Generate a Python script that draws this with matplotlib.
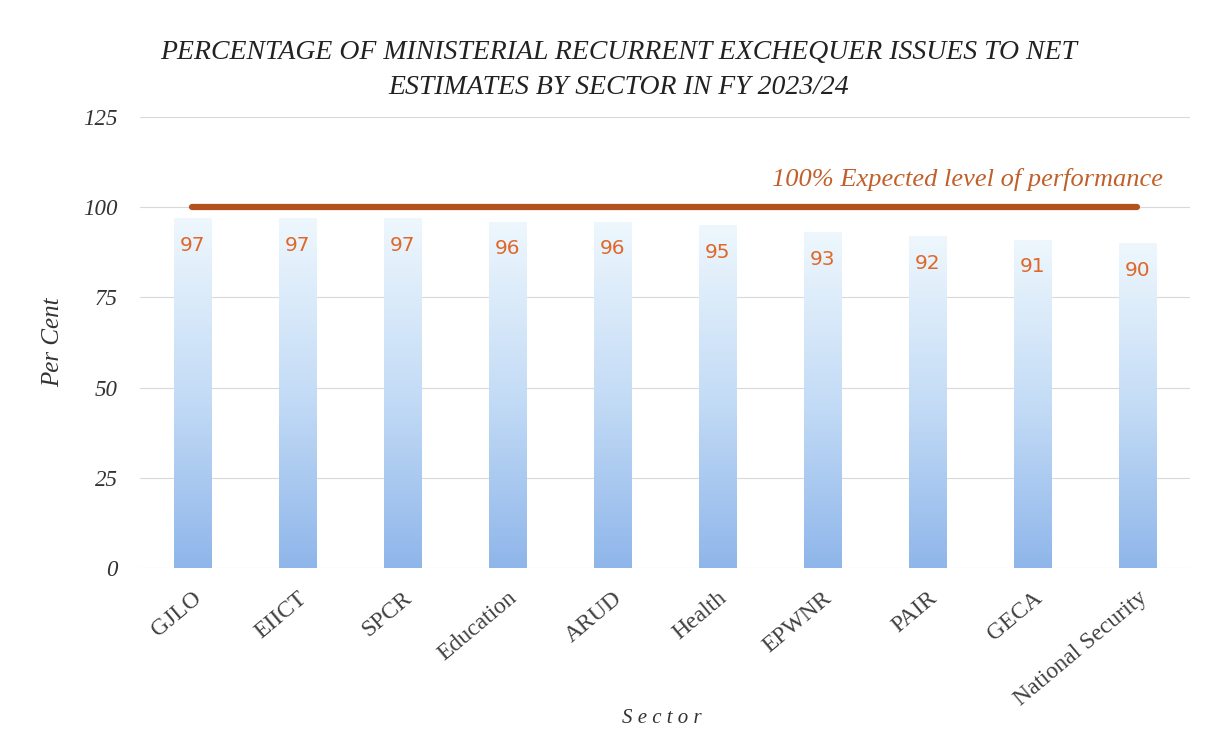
import matplotlib.pyplot as plt
import numpy as np
from matplotlib.colors import LinearSegmentedColormap

# data
sectors = ['GJLO', 'EIICT', 'SPCR', 'Education', 'ARUD', 'Health',
           'EPWNR', 'PAIR', 'GECA', 'National Security']
values = [97, 97, 97, 96, 96, 95, 93, 92, 91, 90]
target = 100
yticks = [0, 25, 50, 75, 100, 125]

serif = 'Liberation Serif'
fig = plt.figure(figsize=(12.13, 7.29), dpi=100)
ax = fig.add_axes([0.1154, 0.2209, 0.8656, 0.6186])

x = np.arange(len(sectors))
bars = ax.bar(x, values, width=0.36, color='none', edgecolor='none', zorder=2)

# vertical gradient fill clipped to each bar
cmap = LinearSegmentedColormap.from_list('barfade', ['#8fb6ea', '#c4dcf6', '#eef7fd'])
grad = np.linspace(0, 1, 256).reshape(-1, 1)
for b in bars:
    x0, y0 = b.get_x(), b.get_y()
    w, h = b.get_width(), b.get_height()
    im = ax.imshow(grad, cmap=cmap, origin='lower', aspect='auto',
                   extent=[x0, x0 + w, y0, y0 + h], zorder=2)
    im.set_clip_path(b)

# value labels inside the top of the bars
for xi, v in zip(x, values):
    ax.annotate(str(v), (xi, v), xytext=(0, -19.5), textcoords='offset points',
                ha='center', va='center', fontsize=14.5, color='#e0672a',
                family='DejaVu Sans', zorder=4)

# expected level line
ax.plot([x[0], x[-1]], [target, target], color='#b2521e', lw=4.5,
        solid_capstyle='round', zorder=3)
ax.text(9.24, 107.6, '100% Expected level of performance', ha='right', va='center',
        fontsize=19, color='#c0602a', style='italic', family=serif)

ax.set_xlim(-0.5, len(sectors) - 0.5)
ax.set_ylim(0, 125)
ax.set_yticks(yticks)
ax.set_yticklabels([str(t) for t in yticks], fontsize=16.5, style='italic',
                   family=serif, color='#333333')
ax.set_xticks(x)
ax.set_xticklabels(sectors, rotation=40, ha='right', rotation_mode='anchor',
                   fontsize=17, family=serif, color='#404040')
ax.tick_params(axis='x', length=0, pad=14)
ax.tick_params(axis='y', length=0, pad=16)
ax.grid(axis='y', color='#d9d9d9', lw=0.8, zorder=0)
ax.set_axisbelow(True)
for s in ax.spines.values():
    s.set_visible(False)

ax.set_ylabel('Per Cent', fontsize=18, style='italic', family=serif,
              color='#333333', labelpad=14)
fig.text(0.546, 0.008, 'S e c t o r', fontsize=15, style='italic', family=serif,
         color='#333333', ha='center')

fig.text(0.51, 0.928, 'PERCENTAGE OF MINISTERIAL RECURRENT EXCHEQUER ISSUES TO NET',
         ha='center', va='center', fontsize=20, style='italic', family=serif,
         color='#222222')
fig.text(0.51, 0.88, 'ESTIMATES BY SECTOR IN FY 2023/24',
         ha='center', va='center', fontsize=20, style='italic', family=serif,
         color='#222222')

fig.savefig('out.png', dpi=100)
